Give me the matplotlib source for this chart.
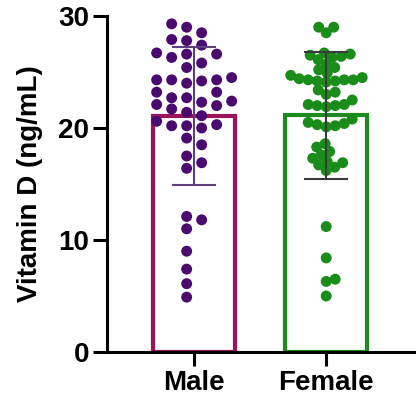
import numpy as np
import matplotlib
matplotlib.use("Agg")
import matplotlib.pyplot as plt

plt.rcParams['font.family'] = ['Liberation Sans', 'DejaVu Sans']
plt.rcParams['font.weight'] = 'bold'

categories = ["Male", "Female"]
male = [29.3, 29.0, 28.5, 27.8, 27.9, 27.4, 26.6, 26.7, 26.3, 26.6, 25.8, 25.4,
        24.2, 24.3, 24.5, 24.0, 24.3, 24.3, 23.2, 22.7, 23.2, 22.7, 22.4, 22.1,
        22.3, 21.7, 22.0, 21.1, 21.4, 20.6, 20.2, 20.3, 20.0, 20.2, 19.1, 18.5,
        17.5, 16.9, 16.4, 11.8, 12.1, 11.0, 9.0, 7.4, 6.1, 4.9]
female = [29.0, 29.0, 28.5,
          26.7, 26.6, 26.5, 26.3, 26.1, 26.4, 25.7, 25.4, 25.2,
          24.9, 24.7, 24.5, 24.3, 24.2, 24.3, 24.4, 24.2, 24.1, 24.3,
          23.4, 23.2, 23.0,
          22.5, 22.1, 22.0, 22.0, 21.9, 22.1,
          20.8, 20.5, 20.3, 20.4, 20.1, 20.2,
          18.6, 18.3, 17.9, 17.6, 17.3,
          17.0, 16.9, 16.7, 16.5, 16.2,
          11.2, 8.4, 6.5, 6.3, 5.0]
yticks = [0, 10, 20, 30]

bar_colors = ["#9c1458", "#1f8a1f"]
dot_colors = ["#4a0a6e", "#1a8c1a"]
err_colors = ["#5b3d80", "#3a3a3a"]

W, H = 416, 401
fig = plt.figure(figsize=(W / 100, H / 100), dpi=100)
ax = fig.add_axes([107 / W, (401 - 352) / H, (416 - 107) / W, (352 - 16) / H])
ax.set_xlim(-0.66, 1.68)
ax.set_ylim(0, 30)

# pixel scales for swarm layout
px_per_x = ax.get_position().width * W / (1.68 + 0.66)
px_per_y = ax.get_position().height * H / 30.0


def swarm(vals, cand, min_dist):
    vals = np.asarray(vals, float)
    order = np.argsort(vals)
    placed = []
    offs = np.zeros(len(vals))
    for i in order:
        y = vals[i] * px_per_y
        best_c, best_d = cand[0], -1.0
        chosen = None
        for c in cand:
            if placed:
                d = min(np.hypot(c - px, y - py) for (px, py) in placed)
            else:
                d = 1e9
            if d >= min_dist:
                chosen = c
                break
            if d > best_d:
                best_d, best_c = d, c
        if chosen is None:
            chosen = best_c
        offs[i] = chosen
        placed.append((chosen, y))
    return offs / px_per_x


lane_cand = []
for k in range(3):
    d = 7.5 + 15 * k
    lane_cand += [-d, d]
cont_cand = [0.0]
for k in range(1, 80):
    d = 0.5 * k
    cont_cand += [d, -d]

offs_m = swarm(male, lane_cand, 11.5)
offs_f = swarm(female, cont_cand, 9.0)

groups = [male, female]
offsets = [offs_m, offs_f]
for i, vals in enumerate(groups):
    vals = np.asarray(vals)
    m = vals.mean()
    sd = vals.std(ddof=1)
    ax.bar(i, m, width=0.62, facecolor="none", edgecolor=bar_colors[i],
           linewidth=3, zorder=1)
    ax.scatter(i + offsets[i], vals, s=62, color=dot_colors[i],
               edgecolors="none", zorder=3)
    ax.errorbar(i, m, yerr=sd, fmt="none", ecolor=err_colors[i],
                elinewidth=1.5, capsize=15.5, capthick=1.5, zorder=4)

ax.spines['top'].set_visible(False)
ax.spines['right'].set_visible(False)
ax.spines['left'].set_linewidth(2.2)
ax.spines['bottom'].set_linewidth(2.2)
ax.set_yticks(yticks)
ax.set_xticks([0, 1])
ax.set_xticklabels(categories)
ax.tick_params(axis='both', length=10, width=2.2, labelsize=20, pad=3)
for lab in ax.get_xticklabels() + ax.get_yticklabels():
    lab.set_fontweight('bold')
ax.set_ylabel("Vitamin D (ng/mL)", fontsize=20, fontweight='bold', labelpad=11)

fig.savefig("out.png", dpi=100)
